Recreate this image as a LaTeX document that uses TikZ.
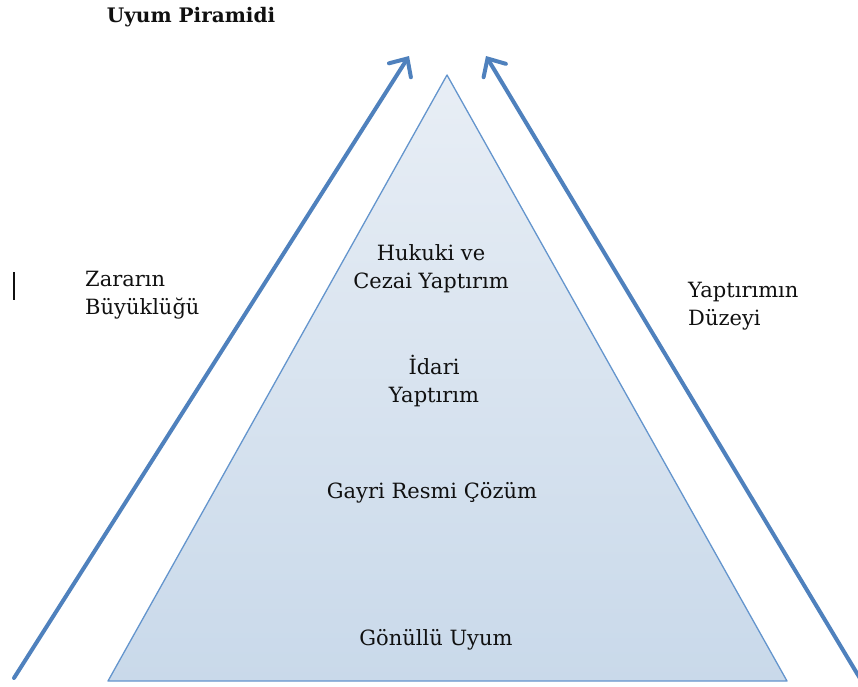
\documentclass[tikz,border=0pt]{standalone}
\usepackage{fontspec}
\setmainfont{DejaVu Serif}
\usetikzlibrary{arrows.meta}
\definecolor{arrowblue}{HTML}{4F81BD}
\definecolor{edgeblue}{HTML}{6495CD}
\definecolor{topfill}{HTML}{E8EEF5}
\definecolor{botfill}{HTML}{C9D9EA}
\definecolor{txt}{HTML}{101010}
\begin{document}
\begin{tikzpicture}[x=1pt,y=-1pt,
  lbl/.style={font=\fontsize{21}{28}\selectfont, align=center, text=txt, inner sep=0pt},
  side/.style={lbl, align=left, anchor=west},
  bigarrow/.style={arrowblue, line width=4pt, line cap=round, -{Straight Barb[length=14pt,width=26pt,line cap=round]}}]
\useasboundingbox (0,0) rectangle (858,686);
\clip (0,0) rectangle (858,686);
\coordinate (apex) at (447,75);
\coordinate (bl) at (108,681);
\coordinate (br) at (787,681);
\shade[top color=topfill, bottom color=botfill, draw=edgeblue, line width=1.3pt, line join=round]
  (apex) -- (br) -- (bl) -- cycle;
\coordinate (lstart) at (14,678);
\coordinate (ltip) at (409,56);
\coordinate (rstart) at (873,700);
\coordinate (rtip) at (486,56);
\draw[bigarrow] (lstart) -- (ltip);
\draw[bigarrow] (rstart) -- (rtip);
\node[font=\bfseries\fontsize{20}{24}\selectfont, text=txt, inner sep=0pt] (title) at (191,17) {Uyum Piramidi};
\node[lbl] (hukuki) at (431,269) {Hukuki ve\\Cezai Yaptırım};
\node[lbl] (idari) at (434,381) {İdari\\Yaptırım};
\node[lbl] (gayri) at (432,493) {Gayri Resmi Çözüm};
\node[lbl] (gonullu) at (436,640) {Gönüllü Uyum};
\node[side] (zarar) at (85,295) {Zararın\\Büyüklüğü};
\node[side] (duzey) at (688,306) {Yaptırımın\\Düzeyi};
\draw[line width=1.2pt, txt] (14,272) -- (14,300);
\end{tikzpicture}
\end{document}
